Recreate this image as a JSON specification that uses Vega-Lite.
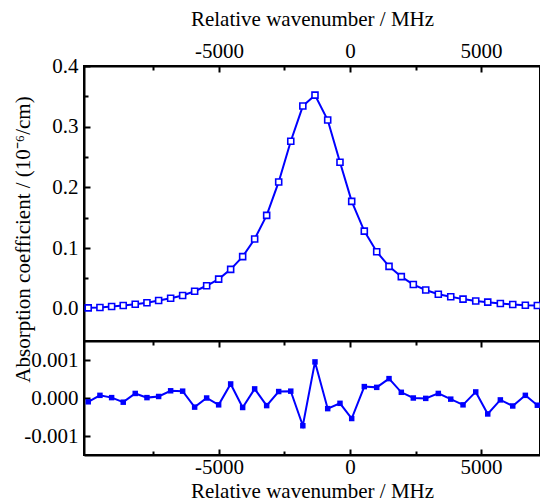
{
  "$schema": "https://vega.github.io/schema/vega-lite/v6.json",
  "autosize": "none",
  "padding": {"left": 84, "top": 66, "right": 456, "bottom": 437},
  "background": "white",
  "spacing": 0,
  "bounds": "flush",
  "config": {
    "font": "Times New Roman, Liberation Serif, serif",
    "view": {"stroke": "black", "strokeWidth": 2},
    "axis": {
      "labelFont": "Times New Roman, Liberation Serif, serif", "labelFontSize": 21, "labelColor": "black",
      "titleFont": "Times New Roman, Liberation Serif, serif", "titleFontSize": 21, "titleFontWeight": "normal", "titleColor": "black",
      "domainColor": "black", "domainWidth": 2, "tickColor": "black", "tickWidth": 2,
      "grid": false, "labelFlush": false, "labelOverlap": false
    }
  },
  "datasets": {
    "spec": [
      {"f": -9989, "a": 0.0016}, {"f": -9542, "a": 0.0021}, {"f": -9096, "a": 0.0038}, {"f": -8653, "a": 0.0054},
      {"f": -8195, "a": 0.0076}, {"f": -7748, "a": 0.0099}, {"f": -7302, "a": 0.0137}, {"f": -6844, "a": 0.0175},
      {"f": -6386, "a": 0.022}, {"f": -5928, "a": 0.029}, {"f": -5470, "a": 0.038}, {"f": -5012, "a": 0.049},
      {"f": -4554, "a": 0.065}, {"f": -4096, "a": 0.086}, {"f": -3638, "a": 0.115}, {"f": -3180, "a": 0.154},
      {"f": -2721, "a": 0.209}, {"f": -2260, "a": 0.276}, {"f": -1800, "a": 0.334}, {"f": -1336, "a": 0.352},
      {"f": -851, "a": 0.311}, {"f": -382, "a": 0.2415}, {"f": 65, "a": 0.177}, {"f": 546, "a": 0.128},
      {"f": 1019, "a": 0.094}, {"f": 1489, "a": 0.070}, {"f": 1958, "a": 0.053}, {"f": 2416, "a": 0.040},
      {"f": 2890, "a": 0.031}, {"f": 3370, "a": 0.024}, {"f": 3844, "a": 0.020}, {"f": 4313, "a": 0.016},
      {"f": 4798, "a": 0.013}, {"f": 5256, "a": 0.011}, {"f": 5737, "a": 0.0087}, {"f": 6210, "a": 0.0071},
      {"f": 6691, "a": 0.006}, {"f": 7149, "a": 0.0054}
    ],
    "res": [
      {"f": -9989, "r": -0.0001}, {"f": -9542, "r": 0.00007}, {"f": -9096, "r": 0.00001}, {"f": -8653, "r": -0.00011},
      {"f": -8195, "r": 0.00012}, {"f": -7748, "r": 0.00001}, {"f": -7302, "r": 0.00004}, {"f": -6844, "r": 0.00019},
      {"f": -6386, "r": 0.00018}, {"f": -5928, "r": -0.00024}, {"f": -5470, "r": 0.0}, {"f": -5012, "r": -0.00018},
      {"f": -4554, "r": 0.00037}, {"f": -4096, "r": -0.00025}, {"f": -3638, "r": 0.00024}, {"f": -3180, "r": -0.0002},
      {"f": -2721, "r": 0.00017}, {"f": -2260, "r": 0.00018}, {"f": -1800, "r": -0.00073}, {"f": -1336, "r": 0.00095},
      {"f": -851, "r": -0.00028}, {"f": -382, "r": -0.00014}, {"f": 65, "r": -0.00054}, {"f": 546, "r": 0.0003},
      {"f": 1019, "r": 0.00028}, {"f": 1489, "r": 0.00051}, {"f": 1958, "r": 0.00015}, {"f": 2416, "r": 0.0},
      {"f": 2890, "r": -0.00001}, {"f": 3370, "r": 0.00012}, {"f": 3844, "r": -0.00003}, {"f": 4313, "r": -0.00018},
      {"f": 4798, "r": 0.00016}, {"f": 5256, "r": -0.00042}, {"f": 5737, "r": -0.00005}, {"f": 6210, "r": -0.00021},
      {"f": 6691, "r": 0.00007}, {"f": 7149, "r": -0.00019}
    ]
  },
  "vconcat": [
    {
      "width": 456, "height": 275,
      "data": {"name": "spec"},
      "encoding": {
        "x": {"field": "f", "type": "quantitative",
          "scale": {"domain": [-10150, 7250], "nice": false, "zero": false},
          "axis": {"orient": "top", "title": "Relative wavenumber / MHz",
            "values": [-7500, -5000, -2500, 0, 2500, 5000],
            "tickSize": {"condition": {"test": "datum.value % 5000 === 0", "value": -6}, "value": -4},
            "labelExpr": "datum.value % 5000 === 0 ? '' + datum.value : ''",
            "labelPadding": 11, "titlePadding": 9}},
        "y": {"field": "a", "type": "quantitative",
          "scale": {"domain": [-0.053, 0.4], "nice": false, "zero": false},
          "axis": {"title": "Absorption coefficient / (10⁻⁶/cm)",
            "values": [0, 0.05, 0.1, 0.15, 0.2, 0.25, 0.3, 0.35, 0.4],
            "tickSize": {"condition": {"test": "abs(datum.value*10 - round(datum.value*10)) < 1e-6", "value": -6}, "value": -4},
            "labelExpr": "abs(datum.value*10 - round(datum.value*10)) < 1e-6 ? format(datum.value, '.1f') : ''",
            "labelPadding": 12,
            "titleX": -55, "titleY": 173, "titleAlign": "center", "titleBaseline": "alphabetic", "titleAngle": -90}}
      },
      "layer": [
        {"mark": {"type": "line", "color": "#0000ff", "strokeWidth": 2}},
        {"mark": {"type": "point", "shape": "square", "filled": true, "fill": "white", "stroke": "#0000ff", "strokeWidth": 1.6, "size": 36, "opacity": 1}}
      ]
    },
    {
      "width": 456, "height": 114,
      "data": {"name": "res"},
      "layer": [
        {"mark": {"type": "line", "color": "#0000ff", "strokeWidth": 2},
          "encoding": {
            "x": {"field": "f", "type": "quantitative",
              "scale": {"domain": [-10150, 7250], "nice": false, "zero": false},
              "axis": {"orient": "bottom", "title": "Relative wavenumber / MHz",
                "values": [-7500, -5000, -2500, 0, 2500, 5000],
                "tickSize": {"condition": {"test": "datum.value % 5000 === 0", "value": -6}, "value": -4},
                "labelExpr": "datum.value % 5000 === 0 ? '' + datum.value : ''",
                "labelPadding": 7, "titlePadding": 1}},
            "y": {"field": "r", "type": "quantitative",
              "scale": {"domain": [-0.0015, 0.0015], "nice": false, "zero": false},
              "axis": {"title": null,
                "values": [-0.001, -0.0005, 0, 0.0005, 0.001],
                "tickSize": {"condition": {"test": "abs(datum.value*1000 - round(datum.value*1000)) < 1e-6", "value": -6}, "value": -4},
                "labelExpr": "abs(datum.value*1000 - round(datum.value*1000)) < 1e-6 ? replace(format(datum.value, '.3f'), '−', '-') : ''",
                "labelPadding": 12}}
          }},
        {"mark": {"type": "point", "shape": "square", "filled": true, "color": "#0000ff", "size": 30, "opacity": 1},
          "encoding": {
            "x": {"field": "f", "type": "quantitative",
              "axis": {"orient": "top", "title": null, "labels": false,
                "values": [-7500, -5000, -2500, 0, 2500, 5000],
                "tickSize": {"condition": {"test": "datum.value % 5000 === 0", "value": -6}, "value": -4}}},
            "y": {"field": "r", "type": "quantitative"}
          }}
      ],
      "resolve": {"axis": {"x": "independent"}}
    }
  ]
}
